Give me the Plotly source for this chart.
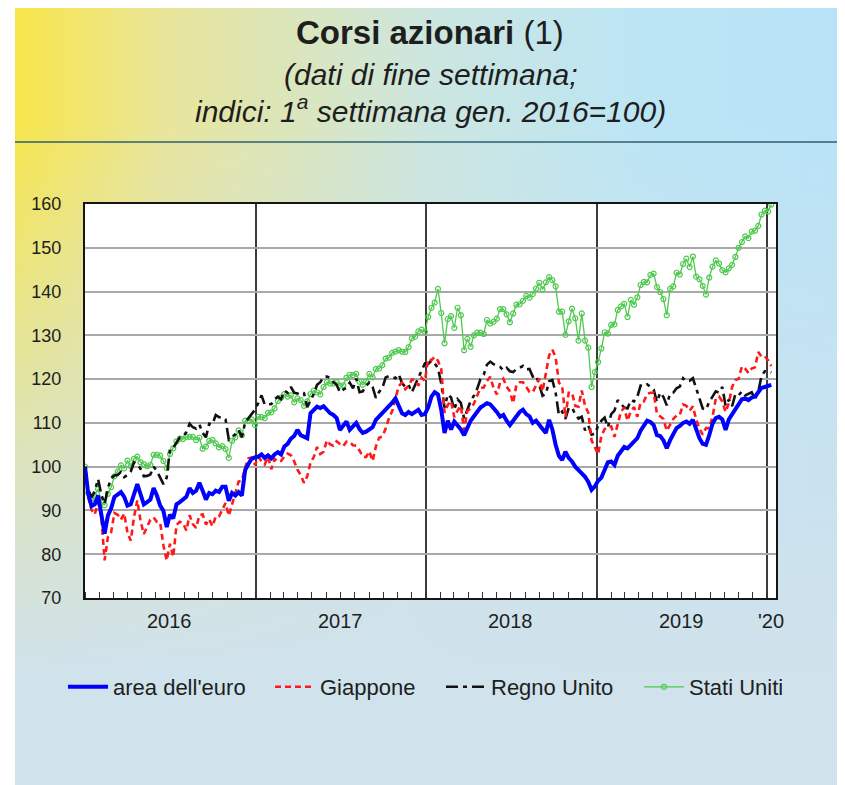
import base64

import pandas as pd
import plotly.graph_objects as go

# weekly observations (Fridays), first week of January 2016 = 100
weeks = pd.date_range("2016-01-01", "2020-01-10", freq="7D")

euro_2016 = [100, 93.7, 91.0, 91.4, 93.4, 89.4, 84.7, 88.8, 90.5, 93.1,
             93.7, 94.2, 93.1, 91.1, 91.4, 94.0, 96.0, 93.7, 91.4, 91.9,
             92.5, 95.1, 93.4, 91.1, 89.9, 86.2, 89.0, 88.2, 91.4, 91.9,
             92.5, 93.1, 95.1, 94.0, 94.5, 96.3, 94.5, 92.5, 94.0, 93.7,
             94.5, 94.2, 95.4, 95.4, 92.2, 94.0, 93.4, 94.2, 93.4, 99.2,
             100.6, 101.8, 102.1]
euro_2017 = [102.3, 102.8, 102.0, 102.6, 101.9, 102.8, 103.3, 102.8, 104.6, 105.2,
             106.4, 107.0, 108.4, 107.2, 106.8, 106.5, 112.2, 113.0, 113.7, 113.4,
             113.8, 113.0, 112.2, 111.8, 111.1, 108.4, 109.5, 110.3, 108.4, 109.2,
             110.0, 108.6, 107.7, 108.0, 108.4, 109.0, 110.7, 111.5, 112.3, 113.0,
             113.6, 114.6, 115.6, 114.0, 112.2, 111.8, 112.5, 112.0, 112.6, 113.0,
             111.8, 112.0]
euro_2018 = [113.5, 116.0, 117.0, 116.5, 113.0, 107.7, 110.5, 108.5, 110.3, 109.5,
             108.5, 107.2, 109.0, 110.5, 111.5, 112.5, 113.5, 114.0, 114.5, 114.2,
             113.5, 112.5, 111.4, 111.8, 110.5, 109.5, 110.5, 111.5, 112.5, 113.0,
             112.0, 111.5, 110.0, 110.5, 109.5, 108.5, 107.7, 110.7, 108.5, 105.0,
             102.5, 101.5, 103.4, 102.0, 101.2, 100.0, 99.2, 98.5, 97.7, 96.5,
             94.7, 95.5]
euro_2019 = [96.8, 97.5, 99.5, 101.0, 101.2, 100.4, 102.5, 103.6, 104.5, 104.2,
             105.0, 106.0, 106.5, 108.2, 109.3, 110.5, 110.2, 109.5, 107.2, 107.0,
             106.0, 104.2, 106.0, 107.5, 108.8, 109.3, 110.0, 110.3, 109.8, 110.7,
             108.6, 106.5, 105.2, 105.0, 107.2, 109.8, 111.1, 111.4, 110.8, 108.4,
             110.8, 112.0, 112.8, 114.0, 115.4, 115.6, 115.2, 115.8, 116.0, 117.0,
             118.0, 118.2]
euro_2020 = [118.4, 118.7]

japan_2016 = [100, 93.0, 90.1, 89.1, 92.0, 88.4, 78.6, 83.9, 85.0, 89.4,
              89.0, 87.9, 89.3, 84.9, 83.1, 88.5, 92.3, 87.6, 84.6, 86.2,
              87.9, 88.4, 87.4, 87.2, 82.0, 78.6, 82.4, 79.4, 86.7, 87.4,
              87.1, 85.4, 88.9, 86.9, 86.0, 88.9, 89.1, 86.8, 88.0, 86.4,
              88.6, 88.6, 90.3, 91.7, 88.8, 91.3, 94.4, 96.6, 96.8, 99.8,
              101.9, 102.1, 100.4]
japan_2017 = [102.2, 101.3, 100.5, 102.3, 99.4, 101.8, 101.1, 101.3, 102.3, 103.0,
              102.6, 101.2, 99.3, 98.1, 96.3, 97.8, 100.9, 102.2, 104.5, 102.9,
              103.4, 106.0, 105.1, 104.8, 105.8, 105.2, 104.7, 105.7, 105.6, 104.9,
              104.8, 103.7, 102.3, 102.2, 103.5, 101.3, 104.6, 106.6, 106.9, 108.7,
              111.1, 112.7, 115.6, 118.4, 119.2, 117.7, 118.5, 119.9, 119.8, 118.5,
              120.3, 119.6]
japan_2018 = [124.6, 124.3, 125.1, 124.2, 122.3, 112.3, 114.1, 115.0, 111.3, 112.8,
              113.9, 108.3, 112.7, 113.3, 114.4, 116.4, 118.0, 118.1, 119.6, 120.5,
              118.0, 116.5, 119.2, 120.1, 118.3, 117.2, 114.5, 118.7, 119.3, 119.3,
              118.3, 117.1, 117.0, 118.7, 120.1, 117.2, 121.3, 125.4, 126.7, 125.0,
              119.2, 118.4, 111.3, 116.9, 116.9, 113.9, 113.7, 117.4, 113.9, 112.3,
              106.0, 104.5]
japan_2019 = [102.8, 107.0, 108.6, 109.1, 109.2, 106.8, 109.8, 112.6, 113.5, 110.5,
              112.7, 113.6, 111.4, 114.6, 114.9, 116.6, 116.9, 116.9, 112.1, 111.6,
              110.9, 108.2, 109.7, 110.9, 111.7, 111.8, 114.2, 113.9, 112.8, 113.8,
              110.8, 108.7, 107.3, 108.8, 108.8, 111.4, 115.5, 116.0, 114.9, 112.5,
              114.5, 118.2, 119.8, 120.1, 122.9, 122.4, 121.4, 122.4, 122.7, 126.2,
              125.1, 125.2]
japan_2020 = [124.3, 123.0]

uk_2016 = [100, 94.7, 93.0, 94.4, 97.2, 93.6, 91.5, 95.1, 97.4, 98.0,
           98.1, 98.8, 97.6, 98.1, 98.9, 101.0, 100.6, 99.5, 97.8, 97.9,
           98.2, 100.0, 99.0, 97.6, 96.0, 97.5, 104.0, 104.3, 105.6, 106.7,
           106.8, 107.9, 109.8, 109.0, 108.7, 109.6, 107.7, 106.7, 109.8, 109.7,
           111.8, 111.3, 111.3, 110.8, 106.2, 106.8, 107.4, 108.4, 106.7, 110.1,
           111.1, 112.0, 113.0]
uk_2017 = [114.5, 116.3, 114.2, 114.2, 114.3, 115.4, 116.0, 115.4, 117.3, 116.9,
           118.2, 116.9, 116.7, 117.1, 116.8, 113.6, 115.0, 116.6, 118.7, 119.3,
           120.5, 120.6, 120.3, 119.3, 118.7, 117.0, 117.6, 118.0, 119.2, 117.9,
           120.1, 117.0, 117.2, 118.5, 119.2, 118.2, 115.7, 117.1, 118.0, 120.4,
           120.7, 120.5, 120.2, 121.1, 119.1, 118.2, 118.7, 117.0, 118.6, 120.2,
           122.0, 123.6]
uk_2018 = [123.5, 124.2, 123.6, 122.5, 119.0, 113.5, 116.5, 115.8, 113.0, 115.4,
           114.6, 111.0, 113.0, 115.0, 116.2, 117.8, 120.0, 121.0, 123.3, 124.0,
           123.4, 123.0, 122.8, 122.0, 122.6, 121.8, 121.6, 122.3, 122.6, 123.0,
           122.2, 122.3, 120.6, 120.9, 118.7, 116.2, 116.6, 119.5, 119.8, 116.9,
           111.8, 112.6, 110.9, 113.4, 113.5, 112.0, 111.0, 111.4, 108.3, 109.4,
           107.3, 107.5]
uk_2019 = [109.3, 110.5, 111.2, 109.0, 112.0, 112.8, 115.2, 114.4, 113.5, 113.3,
           115.2, 114.9, 116.0, 118.5, 118.3, 118.8, 118.3, 117.6, 114.8, 116.9,
           115.9, 114.0, 116.7, 116.9, 117.9, 118.3, 120.2, 119.5, 119.6, 120.2,
           117.9, 115.4, 113.3, 113.0, 114.8, 116.0, 117.2, 116.9, 118.2, 113.9,
           115.3, 113.8, 116.6, 116.3, 117.2, 116.3, 116.7, 117.0, 115.4, 117.1,
           120.7, 121.8]
uk_2020 = [121.8, 121.5]

us_2016 = [100, 94.0, 92.0, 93.3, 94.9, 92.0, 91.2, 93.8, 95.3, 97.8,
           98.9, 100.3, 99.6, 101.4, 100.1, 101.8, 102.3, 101.0, 100.6, 100.1,
           100.4, 102.7, 102.7, 102.5, 101.3, 99.7, 102.9, 104.2, 105.8, 106.4,
           106.3, 106.8, 106.8, 106.8, 106.1, 106.6, 104.1, 104.6, 105.9, 106.1,
           105.3, 104.4, 104.7, 104.0, 102.0, 105.9, 106.7, 108.3, 107.2, 110.5,
           110.5, 110.8, 109.5]
us_2017 = [111.4, 111.3, 111.1, 112.3, 112.4, 113.3, 115.0, 115.8, 116.6, 116.0,
           116.3, 114.7, 115.6, 115.2, 113.9, 114.9, 116.6, 117.4, 117.0, 116.5,
           118.2, 119.3, 119.0, 119.0, 119.3, 118.5, 118.6, 120.3, 121.0, 120.9,
           121.2, 119.4, 118.7, 119.5, 121.2, 120.4, 122.3, 122.4, 123.2, 124.7,
           124.9, 126.0, 126.3, 126.6, 126.3, 126.2, 127.3, 129.3, 129.7, 130.9,
           131.3, 130.8]
us_2018 = [134.2, 136.3, 137.5, 140.6, 135.1, 128.2, 133.7, 134.4, 131.7, 136.3,
           134.6, 126.6, 129.2, 127.4, 130.0, 130.6, 130.6, 130.3, 133.5, 132.7,
           133.1, 133.8, 136.0, 136.0, 134.8, 133.0, 135.0, 137.0, 137.1, 137.9,
           139.0, 138.6, 139.4, 140.7, 142.0, 140.5, 142.1, 143.3, 142.6, 141.2,
           135.4, 135.4, 130.1, 133.2, 136.1, 133.9, 128.8, 135.0, 128.8, 127.2,
           118.2, 121.6]
us_2019 = [123.9, 127.0, 130.7, 130.4, 132.4, 132.5, 135.8, 136.6, 137.2, 134.2,
           138.1, 137.0, 138.7, 141.5, 142.2, 142.1, 143.8, 144.1, 141.0, 139.9,
           138.3, 134.6, 140.6, 141.2, 144.3, 143.9, 146.3, 147.5, 145.6, 148.0,
           143.4, 142.8, 141.3, 139.3, 143.2, 145.7, 147.1, 146.4, 144.9, 144.4,
           145.3, 146.1, 147.9, 150.0, 151.3, 152.6, 152.2, 153.7, 153.9, 155.0,
           157.6, 158.5]
us_2020 = [158.3, 159.9]

year_labels = ["2016", "2017", "2018", "2019", "'20"]
year_label_dates = ["2016-07-01", "2017-07-01", "2018-07-01", "2019-07-01", "2020-01-10"]
year_starts = ["2017-01-01", "2018-01-01", "2019-01-01", "2020-01-01"]

euro_area = euro_2016 + euro_2017 + euro_2018 + euro_2019 + euro_2020
japan = japan_2016 + japan_2017 + japan_2018 + japan_2019 + japan_2020
uk = uk_2016 + uk_2017 + uk_2018 + uk_2019 + uk_2020
us = us_2016 + us_2017 + us_2018 + us_2019 + us_2020

FONT = "Liberation Sans, Arial, sans-serif"

# the page adds an 8px body margin, so screen px = figure px + 8
OFF = 8
# plot area on screen: left 85, right 776, top 204, bottom 598
PW, PH = 691, 394


def px_x(x):
    return (x - 85) / PW


def px_y(y):
    return (598 - y) / PH


def background_image():
    """Yellow-to-light-blue panel behind the chart, as an inline svg."""
    svg = (
        '<svg xmlns="http://www.w3.org/2000/svg" width="830" height="777" '
        'viewBox="0 0 830 777" preserveAspectRatio="none"><defs>'
        '<linearGradient id="h" x1="0" y1="0" x2="1" y2="0">'
        '<stop offset="0" stop-color="#f8e64a"/>'
        '<stop offset="0.18" stop-color="#e9e59a"/>'
        '<stop offset="0.5" stop-color="#cce6e0"/>'
        '<stop offset="0.75" stop-color="#bce5f4"/>'
        '<stop offset="1" stop-color="#b8e3f7"/></linearGradient>'
        '<linearGradient id="v" x1="0" y1="0" x2="0" y2="1">'
        '<stop offset="0.14" stop-color="#d0e2ec" stop-opacity="0"/>'
        '<stop offset="0.58" stop-color="#d0e2ec" stop-opacity="0.7"/>'
        '<stop offset="0.86" stop-color="#d0e2ec" stop-opacity="1"/>'
        '</linearGradient></defs>'
        '<rect width="830" height="777" fill="url(#h)"/>'
        '<rect width="830" height="777" fill="url(#v)"/></svg>'
    )
    return "data:image/svg+xml;base64," + base64.b64encode(svg.encode()).decode()


def stock_chart():
    fig = go.Figure()

    # legendwidth spreads the legend entries like the original
    fig.add_trace(go.Scatter(
        x=weeks, y=us, name="Stati Uniti", mode="lines+markers",
        line=dict(color="#4fc94f", width=1.3), legendwidth=100,
        marker=dict(symbol="circle-open", size=5, color="#4fc94f", line=dict(width=1.2))
    ))
    fig.add_trace(go.Scatter(
        x=weeks, y=uk, name="Regno Unito", mode="lines", legendwidth=143,
        line=dict(color="#111111", width=2.6, dash="12px,5px,4px,5px")
    ))
    fig.add_trace(go.Scatter(
        x=weeks, y=japan, name="Giappone", mode="lines", legendwidth=116,
        line=dict(color="#ff1a1a", width=2.6, dash="6px,4px")
    ))
    fig.add_trace(go.Scatter(
        x=weeks, y=euro_area, name="area dell'euro", mode="lines", legendwidth=152,
        line=dict(color="#0000ff", width=4)
    ))

    # panel background, white plot area and the rule under the title
    fig.add_layout_image(
        source=background_image(), xref="paper", yref="paper",
        x=px_x(15), y=px_y(8), sizex=830 / PW, sizey=777 / PH,
        xanchor="left", yanchor="top", sizing="stretch", layer="below"
    )
    fig.add_shape(type="rect", xref="paper", yref="paper", x0=0, x1=1, y0=0, y1=1,
                  fillcolor="white", line_width=0, layer="below")
    fig.add_shape(type="line", xref="paper", yref="paper",
                  x0=px_x(15), x1=px_x(845), y0=px_y(142), y1=px_y(142),
                  line=dict(color="#2d5f72", width=1.6))

    titles = [
        ("<b>Corsi azionari</b> (1)", 32, 33),
        ("<i>(dati di fine settimana;</i>", 74, 30),
        ("<i>indici: 1<sup>a</sup> settimana gen. 2016=100)</i>", 109, 30),
    ]
    for text, y, size in titles:
        fig.add_annotation(text=text, xref="paper", yref="paper",
                           x=px_x(430), y=px_y(y), showarrow=False,
                           xanchor="center", yanchor="middle",
                           font=dict(family=FONT, size=size, color="#1e1e1e"))

    for label, when in zip(year_labels, year_label_dates):
        fig.add_annotation(text=label, x=when, xref="x", yref="paper",
                           y=px_y(621), showarrow=False, yanchor="middle",
                           font=dict(family=FONT, size=20, color="#1e1e1e"))

    fig.update_layout(
        width=845, height=785, autosize=False,
        margin=dict(l=85 - OFF, r=845 - (776 - OFF), t=204 - OFF,
                    b=785 - (598 - OFF), pad=0),
        paper_bgcolor="white", plot_bgcolor="white",
        font=dict(family=FONT, color="#1e1e1e"),
        showlegend=True,
        legend=dict(orientation="h", x=px_x(63), xanchor="left",
                    y=px_y(687), yanchor="middle", traceorder="reversed",
                    font=dict(family=FONT, size=22, color="#1e1e1e"),
                    bgcolor="rgba(0,0,0,0)", itemwidth=40),
        xaxis=dict(
            type="date", range=["2016-01-01", "2020-01-20"],
            tickmode="array", tickvals=year_starts, showticklabels=False,
            showgrid=True, gridcolor="#3c3c3c", gridwidth=1.5, ticks="",
            showline=True, linecolor="#151515", linewidth=2, mirror=True,
            zeroline=False,
            minor=dict(tickmode="linear", tick0="2016-01-01", dtick="M1",
                       ticks="inside", ticklen=6, tickwidth=1.2,
                       tickcolor="#333333", showgrid=False),
        ),
        yaxis=dict(
            range=[70, 160], tick0=70, dtick=10,
            showgrid=True, gridcolor="#a9a9a9", gridwidth=1.5, ticks="",
            ticklabelstandoff=18, tickfont=dict(size=18, color="#1e1e1e"),
            showline=True, linecolor="#151515", linewidth=2, mirror=True,
            zeroline=False,
        ),
        yaxis2=dict(
            range=[70, 160], tick0=70, dtick=10, overlaying="y", side="right",
            showgrid=False, ticks="", ticklabelstandoff=6, zeroline=False,
            tickfont=dict(size=19, color="#1b4e6b"),
        ),
    )
    return fig


fig = stock_chart()
fig.write_html("out.html")
